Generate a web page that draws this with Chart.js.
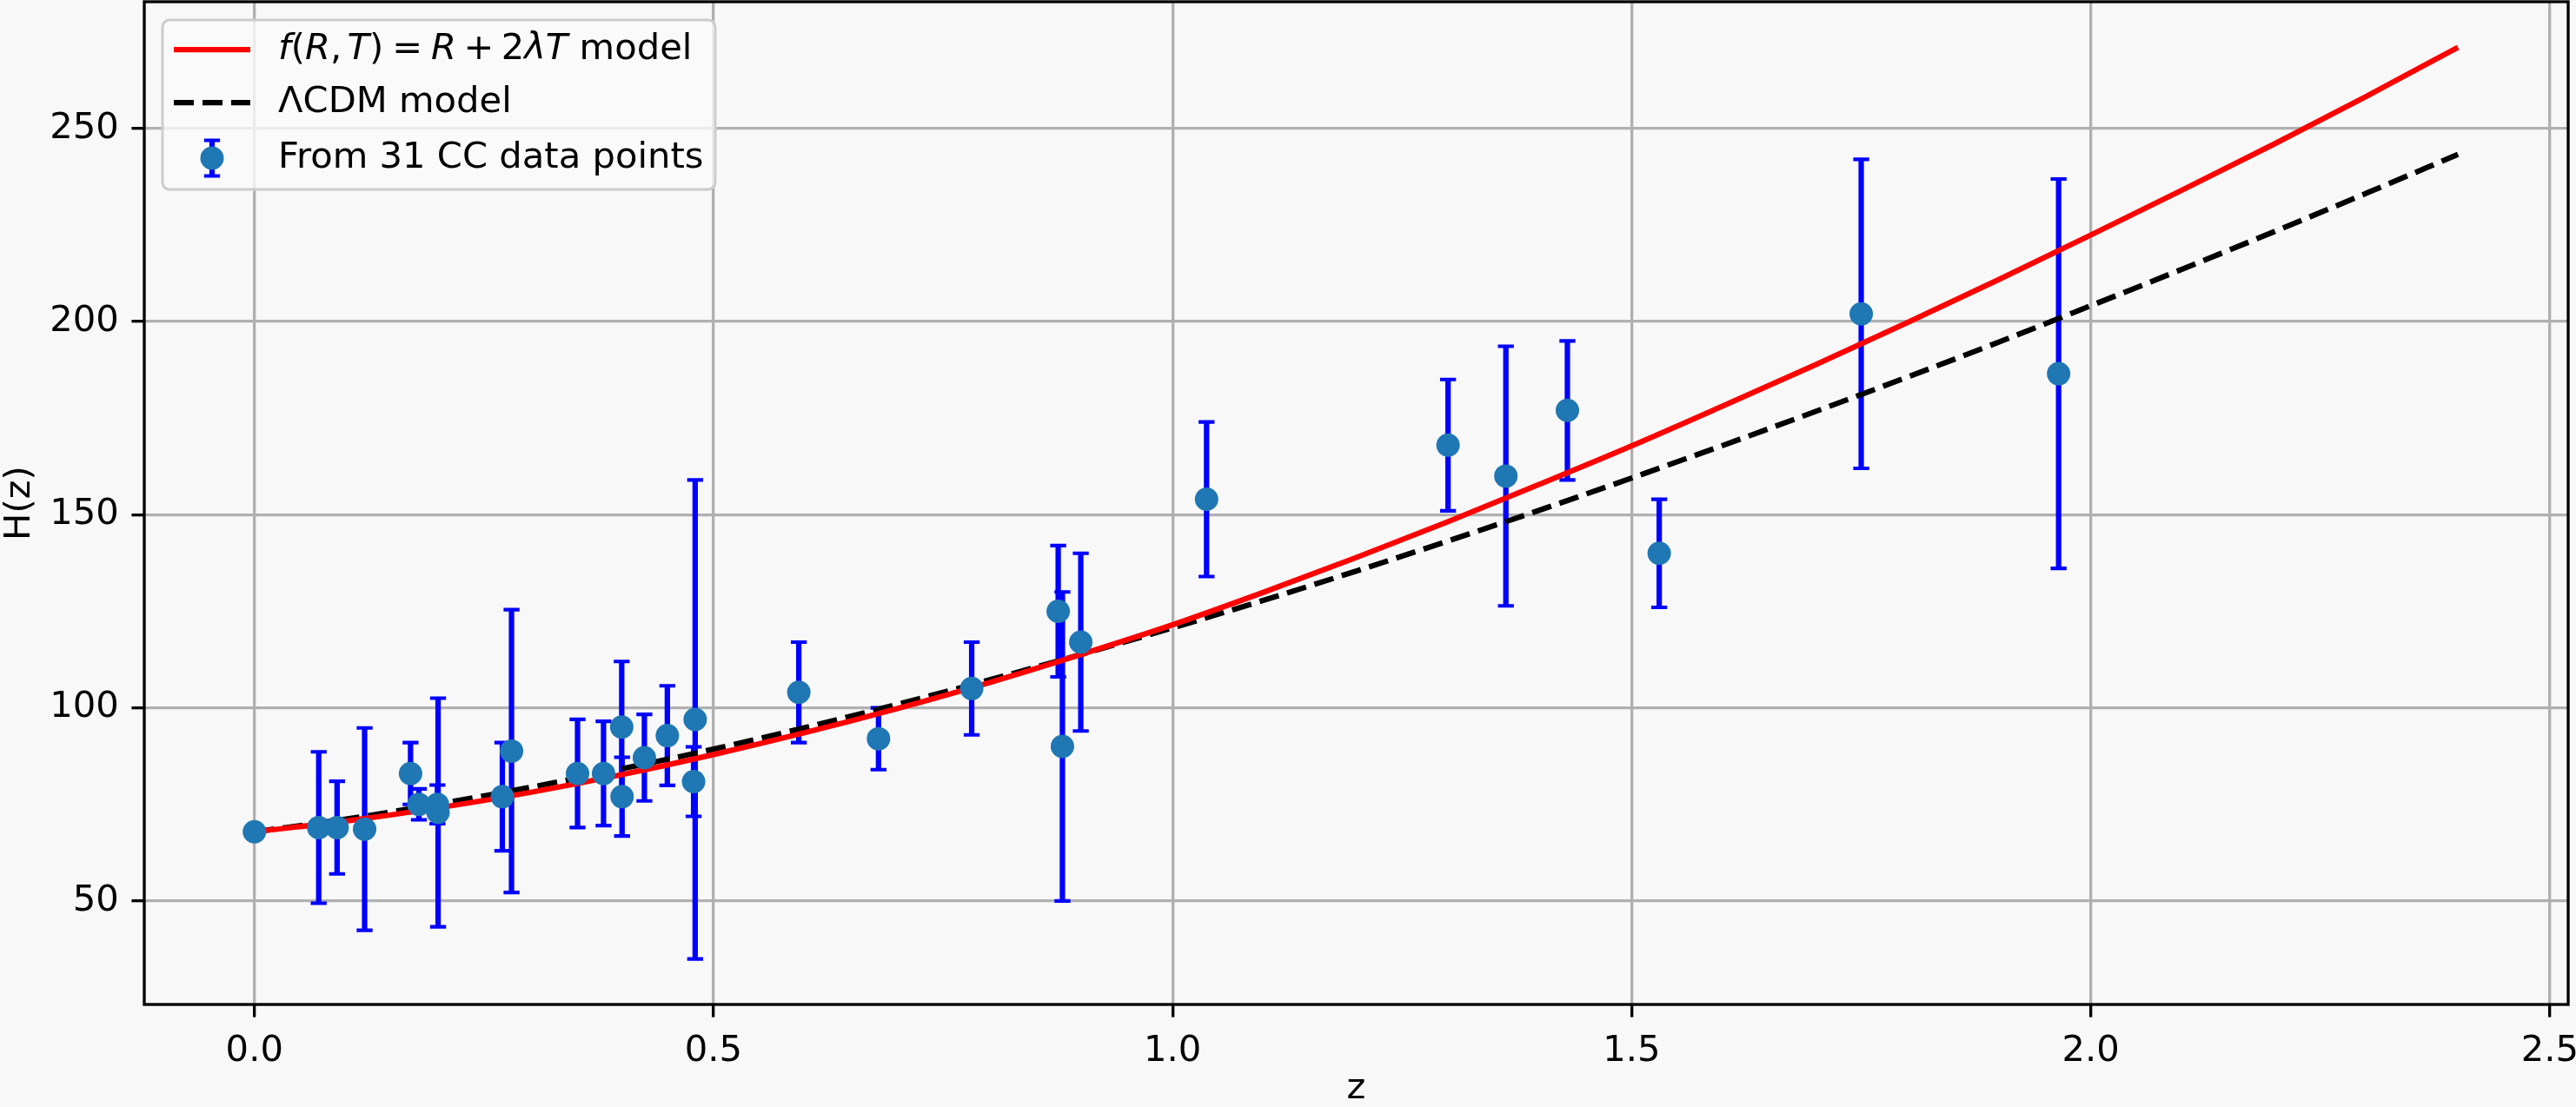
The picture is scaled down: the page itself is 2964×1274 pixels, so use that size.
<!DOCTYPE html>
<html><head><meta charset="utf-8">
<script src="https://cdn.jsdelivr.net/npm/chart.js@4.4.1/dist/chart.umd.min.js"></script>
<style>html,body{margin:0;padding:0;background:#f8f8f8;overflow:hidden}canvas{display:block}</style>
</head><body>
<canvas id="c" width="2964" height="1274" style="width:2964px;height:1274px"></canvas>
<script>
// Cosmic-chronometer data points
const ccZ   = [0, 0.07, 0.09, 0.12, 0.17, 0.1791, 0.1993, 0.2, 0.27, 0.28, 0.3519, 0.3802, 0.4, 0.4004, 0.4247, 0.4497, 0.4783, 0.48, 0.5929, 0.6797, 0.7812, 0.8754, 0.88, 0.9, 1.037, 1.3, 1.363, 1.43, 1.53, 1.75, 1.965];
const ccH   = [67.9, 69, 69, 68.6, 83, 75, 75, 72.9, 77, 88.8, 83, 83, 95, 77, 87.1, 92.8, 80.9, 97, 104, 92, 105, 125, 90, 117, 154, 168, 160, 177, 140, 202, 186.5];
const ccErr = [0, 19.6, 12, 26.2, 8, 4, 5, 29.6, 14, 36.6, 14, 13.5, 17, 10.2, 11.2, 12.9, 9, 62, 13, 8, 12, 17, 40, 23, 20, 17, 33.6, 18, 14, 40, 50.4];

// Model curves
const modelZ = [0, 0.1, 0.2, 0.3, 0.4, 0.5, 0.6, 0.7, 0.8, 0.9, 1.0, 1.1, 1.2, 1.3, 1.4, 1.5, 1.6, 1.7, 1.8, 1.9, 2.0, 2.1, 2.2, 2.3, 2.4];
const hFRT   = [67.9, 70.7, 74.1, 78.1, 82.7, 87.9, 93.6, 99.8, 106.5, 113.8, 121.5, 130.0, 138.9, 148.2, 157.9, 167.8, 178.2, 188.8, 199.7, 210.9, 222.4, 234.1, 246.0, 258.3, 271.0];
const hLCDM  = [67.9, 71.2, 75.1, 79.4, 84.2, 89.3, 94.9, 100.9, 107.2, 113.8, 120.7, 127.9, 135.4, 143.2, 151.2, 159.5, 168.0, 176.7, 185.6, 194.7, 204.1, 213.6, 223.3, 233.2, 243.3];

const xTicks = [0, 0.5, 1.0, 1.5, 2.0, 2.5];
const yTicks = [50, 100, 150, 200, 250];

const FONT = '"DejaVu Sans", "Liberation Sans", sans-serif';
const FS = 41.7;
const PT = 300/72;

const bgPlugin = {
  id: 'bg',
  beforeDraw(chart) {
    const c = chart.ctx;
    c.save(); c.fillStyle = '#f8f8f8'; c.fillRect(0, 0, chart.width, chart.height); c.restore();
  }
};

const errorBarPlugin = {
  id: 'errbars',
  beforeDatasetsDraw(chart) {
    const {ctx, scales: {x, y}, chartArea: a} = chart;
    ctx.save();
    ctx.beginPath(); ctx.rect(a.left, a.top, a.right - a.left, a.bottom - a.top); ctx.clip();
    ctx.strokeStyle = '#0000ff';
    const cap = 2.2 * PT;
    for (let i = 0; i < ccZ.length; i++) {
      if (!(ccErr[i] > 0)) continue;
      const px = x.getPixelForValue(ccZ[i]);
      const t = y.getPixelForValue(ccH[i] + ccErr[i]);
      const b = y.getPixelForValue(ccH[i] - ccErr[i]);
      ctx.lineWidth = 1.5 * PT;
      ctx.beginPath(); ctx.moveTo(px, t); ctx.lineTo(px, b); ctx.stroke();
      ctx.lineWidth = 1.0 * PT;
      ctx.beginPath();
      ctx.moveTo(px - cap, t); ctx.lineTo(px + cap, t);
      ctx.moveTo(px - cap, b); ctx.lineTo(px + cap, b);
      ctx.stroke();
    }
    ctx.restore();
  }
};

const framePlugin = {
  id: 'frame',
  afterDatasetsDraw(chart) {
    const {ctx, chartArea: a} = chart;
    ctx.save();
    ctx.strokeStyle = '#000'; ctx.lineWidth = 0.8 * PT; ctx.lineCap = 'square';
    ctx.strokeRect(a.left, a.top, a.right - a.left, a.bottom - a.top);
    ctx.restore();

    // Legend
    const L = {x: a.left + 21, y: a.top + 21, w: 636, h: 195};
    ctx.save();
    const r = 8;
    ctx.beginPath();
    ctx.moveTo(L.x + r, L.y);
    ctx.arcTo(L.x + L.w, L.y, L.x + L.w, L.y + L.h, r);
    ctx.arcTo(L.x + L.w, L.y + L.h, L.x, L.y + L.h, r);
    ctx.arcTo(L.x, L.y + L.h, L.x, L.y, r);
    ctx.arcTo(L.x, L.y, L.x + L.w, L.y, r);
    ctx.closePath();
    ctx.fillStyle = 'rgba(250,250,250,0.8)';
    ctx.fill();
    ctx.strokeStyle = '#cccccc'; ctx.lineWidth = 3;
    ctx.stroke();

    const hx0 = L.x + 13, hx1 = L.x + 101, hc = (hx0 + hx1) / 2, tx = L.x + 133;
    const rows = [L.y + 34, L.y + 95, L.y + 159];
    // red line handle
    ctx.strokeStyle = '#ff0000'; ctx.lineWidth = 1.5 * PT;
    ctx.beginPath(); ctx.moveTo(hx0, rows[0]); ctx.lineTo(hx1, rows[0]); ctx.stroke();
    // dashed handle
    ctx.strokeStyle = '#000000'; ctx.setLineDash([23, 10]);
    ctx.beginPath(); ctx.moveTo(hx0, rows[1]); ctx.lineTo(hx1, rows[1]); ctx.stroke();
    ctx.setLineDash([]);
    // errorbar handle
    ctx.strokeStyle = '#0000ff';
    const cap = 2.2 * PT, eh = 20.5;
    ctx.lineWidth = 1.5 * PT;
    ctx.beginPath(); ctx.moveTo(hc, rows[2] - eh); ctx.lineTo(hc, rows[2] + eh); ctx.stroke();
    ctx.lineWidth = 1.0 * PT;
    ctx.beginPath();
    ctx.moveTo(hc - cap, rows[2] - eh); ctx.lineTo(hc + cap, rows[2] - eh);
    ctx.moveTo(hc - cap, rows[2] + eh); ctx.lineTo(hc + cap, rows[2] + eh);
    ctx.stroke();
    ctx.fillStyle = '#1f77b4';
    ctx.beginPath(); ctx.arc(hc, rows[2], 13.5, 0, Math.PI * 2); ctx.fill();

    // texts
    ctx.fillStyle = '#000'; ctx.textBaseline = 'middle'; ctx.textAlign = 'left';
    const IT = 'italic ' + FS + 'px ' + FONT, RG = FS + 'px ' + FONT;
    const segs = [['f', IT], ['(', RG], ['R', IT], [',', RG], [0.15], ['T', IT], [')', RG], [0.24], ['=', RG], [0.24],
                  ['R', IT], [0.2], ['+', RG], [0.2], ['2', RG], ['λ', IT], ['T', IT], [' model', RG]];
    let cx = tx;
    for (const s of segs) {
      if (s.length === 1) { cx += s[0] * FS; continue; }
      ctx.font = s[1];
      ctx.fillText(s[0], cx, rows[0]);
      cx += ctx.measureText(s[0]).width;
    }
    ctx.font = RG;
    ctx.fillText('ΛCDM model', tx, rows[1]);
    ctx.fillText('From 31 CC data points', tx, rows[2]);
    ctx.restore();
  }
};

const zeroPad = s => { s.paddingTop = 0; s.paddingBottom = 0; s.paddingLeft = 0; s.paddingRight = 0; };

const axisCommon = {
  type: 'linear',
  grid: {color: '#b0b0b0', lineWidth: 0.8 * PT, tickColor: '#000', tickWidth: 0.8 * PT, tickLength: 3.5 * PT, drawTicks: true},
  border: {display: false},
};

new Chart(document.getElementById('c'), {
  type: 'scatter',
  data: {
    datasets: [
      {type: 'scatter', label: 'From 31 CC data points',
       data: ccZ.map((z, i) => ({x: z, y: ccH[i]})),
       pointRadius: 13.5, pointHoverRadius: 13.5, pointBorderWidth: 0,
       backgroundColor: '#1f77b4', borderColor: '#1f77b4', order: 0},
      {type: 'line', label: 'f(R, T) = R + 2λT model',
       data: modelZ.map((z, i) => ({x: z, y: hFRT[i]})),
       borderColor: '#ff0000', borderWidth: 1.5 * PT, pointRadius: 0, fill: false,
       cubicInterpolationMode: 'monotone', order: 1},
      {type: 'line', label: 'ΛCDM model',
       data: modelZ.map((z, i) => ({x: z, y: hLCDM[i]})),
       borderColor: '#000000', borderWidth: 1.5 * PT, borderDash: [23, 10], pointRadius: 0, fill: false,
       cubicInterpolationMode: 'monotone', order: 2}
    ]
  },
  options: {
    responsive: false, devicePixelRatio: 1, animation: false,
    layout: {autoPadding: false, padding: {top: 2, right: 9, left: 0, bottom: 0}},
    plugins: {legend: {display: false}, tooltip: {enabled: false}},
    scales: {
      x: Object.assign({}, axisCommon, {
        min: -0.12, max: 2.52,
        afterBuildTicks: s => { s.ticks = xTicks.map(v => ({value: v})); },
        afterFit: s => { s.height = 118; zeroPad(s); },
        ticks: {padding: 3.5 * PT, color: '#000', font: {family: FONT, size: FS}, maxRotation: 0, autoSkip: false,
                callback: v => Number(v).toFixed(1)},
        title: {display: true, text: 'z', color: '#000', font: {family: FONT, size: FS, lineHeight: 1}, padding: {top: 0, bottom: 0}}
      }),
      y: Object.assign({}, axisCommon, {
        min: 23.2, max: 282.8,
        afterBuildTicks: s => { s.ticks = yTicks.map(v => ({value: v})); },
        afterFit: s => { s.width = 166; zeroPad(s); },
        ticks: {padding: 3.5 * PT, color: '#000', font: {family: FONT, size: FS}, autoSkip: false,
                callback: v => String(v)},
        title: {display: true, text: 'H(z)', color: '#000', font: {family: FONT, size: FS, lineHeight: 1}, padding: {top: 2, bottom: 0}}
      })
    }
  },
  plugins: [bgPlugin, errorBarPlugin, framePlugin]
});
</script>
</body></html>
